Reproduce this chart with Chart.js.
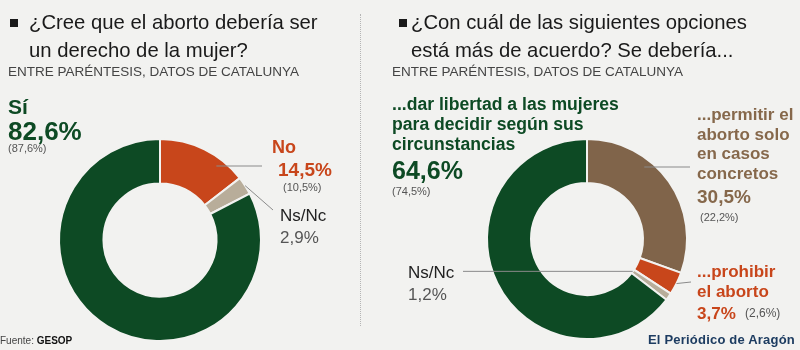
<!DOCTYPE html>
<html>
<head>
<meta charset="utf-8">
<script src="https://cdn.jsdelivr.net/npm/chart.js@4"></script>
<style>
body{margin:0;background:#f2f2f0;font-family:"Liberation Sans",Arial,sans-serif;}
#wrap{position:relative;width:800px;height:350px;overflow:hidden;background:#f2f2f0;}
canvas{position:absolute;left:0;top:0;}
.t{position:absolute;white-space:nowrap;}
.title{font-size:20.3px;line-height:28px;color:#1a1a1a;}
.sq{position:absolute;width:8px;height:8px;background:#1a1a1a;}
.sub{font-size:13.5px;color:#444;line-height:15px;}
.green{color:#0d4a24;font-weight:bold;}
.orange{color:#c8461b;font-weight:bold;}
.brown{color:#86684b;font-weight:bold;}
.small{font-size:11px;color:#555;line-height:13px;}
.dark{color:#222;font-size:17px;line-height:20px;}
.gray{color:#555;font-size:17px;line-height:20px;}
#divider{position:absolute;left:360px;top:14px;height:312px;border-left:1px dotted #b5b5b5;}
</style>
</head>
<body>
<div id="wrap">
  <canvas id="chartLeft" width="800" height="350"></canvas>
  <canvas id="chartRight" width="800" height="350"></canvas>
  <div id="divider"></div>

  <div class="sq" style="left:10px;top:19px"></div>
  <div class="t title" style="left:29px;top:8px">¿Cree que el aborto debería ser</div>
  <div class="t title" style="left:29px;top:36px">un derecho de la mujer?</div>
  <div class="t sub" style="left:8px;top:64px">ENTRE PARÉNTESIS, DATOS DE CATALUNYA</div>

  <div class="sq" style="left:399px;top:19px"></div>
  <div class="t title" style="left:411px;top:8px">¿Con cuál de las siguientes opciones</div>
  <div class="t title" style="left:411px;top:36px">está más de acuerdo? Se debería...</div>
  <div class="t sub" style="left:392px;top:64px">ENTRE PARÉNTESIS, DATOS DE CATALUNYA</div>

  <div id="labels"></div>

  <div class="t" style="left:0px;top:335px;font-size:10px;color:#444">Fuente: <b style="color:#111">GESOP</b></div>
  <div class="t" style="left:648px;top:332px;font-size:13px;font-weight:bold;letter-spacing:0.2px;color:#1d3c61">El Periódico de Aragón</div>
</div>

<script>
// Pregunta 1: ¿Cree que el aborto debería ser un derecho de la mujer?
var q1Labels = ["No", "Ns/Nc", "Sí"];
var q1Values = [14.5, 2.9, 82.6];
var q1Catalunya = [10.5, null, 87.6];
var q1Colors = ["#c8461b", "#b8ad9a", "#0d4a24"];

// Pregunta 2: ¿Con cuál de las siguientes opciones está más de acuerdo?
var q2Labels = ["...permitir el aborto solo en casos concretos", "...prohibir el aborto", "Ns/Nc", "...dar libertad a las mujeres para decidir según sus circunstancias"];
var q2Values = [30.5, 3.7, 1.2, 64.6];
var q2Catalunya = [22.2, 2.6, null, 74.5];
var q2Colors = ["#80644a", "#c8461b", "#b8ad9a", "#0d4a24"];

function pct(v){ return v.toFixed(1).replace(".", ",") + "%"; }

function addText(html, cls, x, y, style){
    var d = document.createElement("div");
    d.className = "t " + cls;
    d.style.left = x + "px";
    d.style.top = y + "px";
    if (style) d.style.cssText += style;
    d.innerHTML = html;
    document.getElementById("labels").appendChild(d);
}

// etiquetas pregunta 1
addText(q1Labels[2], "green", 8, 96, "font-size:21px;line-height:22px");
addText(pct(q1Values[2]), "green", 8, 117, "font-size:26px;line-height:28px");
addText("(" + pct(q1Catalunya[2]) + ")", "small", 8, 142);
addText(q1Labels[0], "orange", 272, 137, "font-size:18px;line-height:20px");
addText(pct(q1Values[0]), "orange", 278, 159, "font-size:19px;line-height:21px");
addText("(" + pct(q1Catalunya[0]) + ")", "small", 283, 181);
addText(q1Labels[1], "dark", 280, 206);
addText(pct(q1Values[1]), "gray", 280, 228);

// etiquetas pregunta 2
var libre = ["...dar libertad a las mujeres", "para decidir según sus", "circunstancias"];
libre.forEach(function(s, i){ addText(s, "green", 392, 94 + i * 20, "font-size:17.6px;line-height:20px"); });
addText(pct(q2Values[3]), "green", 392, 157, "font-size:25px;line-height:26px");
addText("(" + pct(q2Catalunya[3]) + ")", "small", 392, 185);
var permitir = ["...permitir el", "aborto solo", "en casos", "concretos"];
permitir.forEach(function(s, i){ addText(s, "brown", 697, 105 + i * 19.5, "font-size:17px;line-height:20px"); });
addText(pct(q2Values[0]), "brown", 697, 186, "font-size:19px;line-height:21px");
addText("(" + pct(q2Catalunya[0]) + ")", "small", 700, 211);
addText("...prohibir", "orange", 697, 262, "font-size:17px;line-height:20px");
addText("el aborto", "orange", 697, 282, "font-size:17px;line-height:20px");
addText(pct(q2Values[1]), "orange", 697, 304, "font-size:17px;line-height:20px");
addText("(" + pct(q2Catalunya[1]) + ")", "small", 745, 307, "font-size:12px");
addText(q2Labels[2], "dark", 408, 263);
addText(pct(q2Values[2]), "gray", 408, 285);

// lineas guia desde cada sector hasta su etiqueta
var leaderPlugin = {
    id: "leaders",
    afterDatasetsDraw: function(chart, args, opts){
        var ctx = chart.ctx;
        var arcs = chart.getDatasetMeta(0).data;
        ctx.save();
        ctx.strokeStyle = "#8a8a8a";
        ctx.lineWidth = 1;
        (opts.lines || []).forEach(function(l){
            var a = arcs[l.index];
            var mid = (a.startAngle + a.endAngle) / 2;
            var x0, y0, x1 = l.to[0], y1 = l.to[1];
            if (l.mode === "h") {
                var r = a.outerRadius - 8;
                var dy = y1 - a.y;
                x0 = a.x + Math.sqrt(r * r - dy * dy);
                y0 = y1;
            } else if (l.mode === "inner") {
                x0 = a.x + a.innerRadius * Math.cos(mid);
                y0 = a.y + a.innerRadius * Math.sin(mid);
                y1 = y0;
            } else {
                x0 = a.x + a.outerRadius * Math.cos(mid);
                y0 = a.y + a.outerRadius * Math.sin(mid);
            }
            ctx.beginPath();
            ctx.moveTo(x0, y0);
            ctx.lineTo(x1, y1);
            ctx.stroke();
        });
        ctx.restore();
    }
};

function donut(id, labels, values, colors, padding, lines){
    return new Chart(document.getElementById(id).getContext("2d"), {
        type: "doughnut",
        data: {
            labels: labels,
            datasets: [{
                data: values,
                backgroundColor: colors,
                borderColor: "#f2f2f0",
                borderWidth: 2
            }]
        },
        options: {
            responsive: false,
            animation: false,
            cutout: "56%",
            layout: {padding: padding},
            plugins: {
                legend: {display: false},
                tooltip: {enabled: false},
                leaders: {lines: lines}
            }
        },
        plugins: [leaderPlugin]
    });
}

donut("chartLeft", q1Labels, q1Values, q1Colors,
    {left: 58, right: 538, top: 138, bottom: 8},
    [{index: 0, mode: "h", to: [262, 166]}, {index: 1, mode: "outer", to: [273, 210]}]);

donut("chartRight", q2Labels, q2Values, q2Colors,
    {left: 486, right: 112, top: 138, bottom: 10},
    [{index: 0, mode: "h", to: [690, 167]}, {index: 1, mode: "outer", to: [691, 282]}, {index: 2, mode: "inner", to: [463, 0]}]);
</script>
</body>
</html>
